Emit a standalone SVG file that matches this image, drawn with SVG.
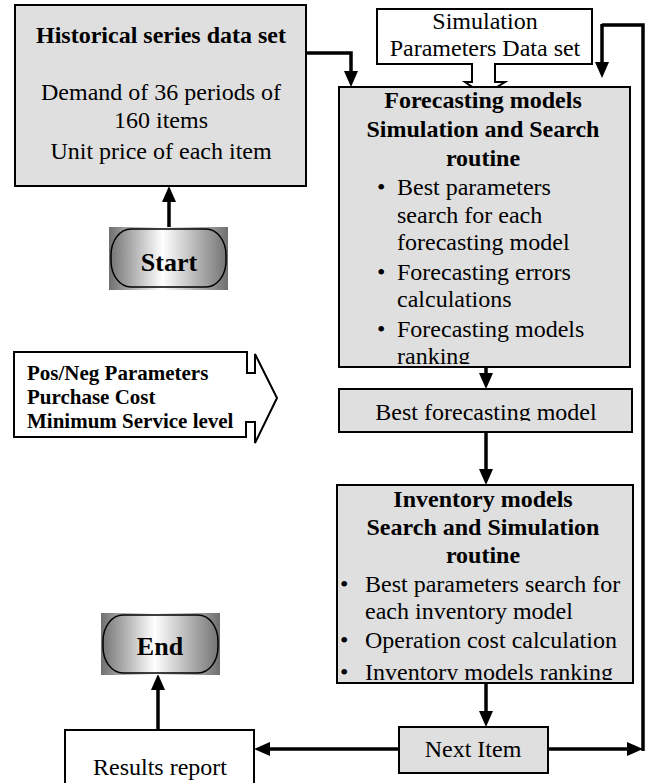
<svg xmlns="http://www.w3.org/2000/svg" width="654" height="783" viewBox="0 0 654 783" font-family="'Liberation Serif','Times New Roman',serif">
<style>
text{font-family:"Liberation Serif","Times New Roman",serif;fill:#000;}
.t{font-size:24px;}
.b{font-size:24px;font-weight:bold;}
.bs{font-size:21px;font-weight:bold;}
.term{font-size:26px;font-weight:bold;}
.box{fill:#dfdfdf;stroke:#000;stroke-width:2;}
.wbox{fill:#fff;stroke:#000;stroke-width:2;}
.conn path{fill:none;stroke:#000;stroke-width:3.5;}
.conn path.ar{marker-end:url(#ah);}
</style>
<defs>
<marker id="ah" markerWidth="16" markerHeight="14" refX="1" refY="7" orient="auto" markerUnits="userSpaceOnUse">
<path d="M0,0 L16,7 L0,14 Z" fill="#000"/>
</marker>
<linearGradient id="gr" x1="0" y1="0" x2="1" y2="0">
<stop offset="0" stop-color="#707070"/>
<stop offset="0.45" stop-color="#ffffff"/>
<stop offset="1" stop-color="#707070"/>
</linearGradient>
<clipPath id="cpF"><rect x="339" y="87" width="291" height="277"/></clipPath>
<clipPath id="cpB"><rect x="339" y="389" width="293" height="32"/></clipPath>
<clipPath id="cpI"><rect x="337" y="485" width="296" height="195"/></clipPath>
</defs>

<g id="connectors" class="conn">
<path class="ar" d="M306,53 H351 V72"/>
<path class="ar" d="M169,227 V201"/>
<path d="M643,751 V25 H602"/>
<path class="ar" d="M602,24 V63"/>
<path class="ar" d="M486,367 V374"/>
<path class="ar" d="M486,432 V470"/>
<path class="ar" d="M486,683 V712"/>
<path class="ar" d="M548,749 H628"/>
<path class="ar" d="M399,749 H269"/>
<path class="ar" d="M158,730 V689"/>
</g>

<g id="historical">
<rect class="box" x="15" y="5" width="291" height="181"/>
<text class="b" x="161" y="43" text-anchor="middle">Historical series data set</text>
<text class="t" x="161" y="100" text-anchor="middle">Demand of 36 periods of</text>
<text class="t" x="161" y="128" text-anchor="middle">160 items</text>
<text class="t" x="161" y="159" text-anchor="middle">Unit price of each item</text>
</g>

<g id="start">
<rect x="109" y="227" width="119" height="63" fill="url(#gr)"/>
<rect x="111" y="229" width="115" height="58" rx="20" ry="26" fill="none" stroke="#000" stroke-width="1.5"/>
<text class="term" x="169" y="271" text-anchor="middle">Start</text>
</g>

<g id="simulation-parameters">
<path class="wbox" d="M377,9 H592 V64 H495 V82 H505 L484,95 L465,82 H472 V64 H377 Z"/>
<text class="t" x="485" y="29" text-anchor="middle">Simulation</text>
<text class="t" x="485" y="56" text-anchor="middle">Parameters Data set</text>
</g>

<g id="forecasting">
<rect class="box" x="339" y="87" width="291" height="280"/>
<g clip-path="url(#cpF)">
<text class="b" x="483" y="108" text-anchor="middle">Forecasting models</text>
<text class="b" x="483" y="137" text-anchor="middle">Simulation and Search</text>
<text class="b" x="483" y="166" text-anchor="middle">routine</text>
<text class="t" x="377" y="195">•</text>
<text class="t" x="397" y="195">Best parameters</text>
<text class="t" x="397" y="223">search for each</text>
<text class="t" x="397" y="250">forecasting model</text>
<text class="t" x="377" y="280">•</text>
<text class="t" x="397" y="280">Forecasting errors</text>
<text class="t" x="397" y="307">calculations</text>
<text class="t" x="377" y="337">•</text>
<text class="t" x="397" y="337">Forecasting models</text>
<text class="t" x="397" y="364">ranking</text>
</g>
</g>

<g id="parameters">
<path class="wbox" d="M14,352 H247 V373 H255 V354 L277,398 L255,443 V422 H246 V437 H14 Z"/>
<text class="bs" x="27" y="380">Pos/Neg Parameters</text>
<text class="bs" x="27" y="404">Purchase Cost</text>
<text class="bs" x="27" y="428">Minimum Service level</text>
</g>

<g id="best-forecasting">
<rect class="box" x="339" y="389" width="293" height="43"/>
<text class="t" x="486" y="420" text-anchor="middle" clip-path="url(#cpB)">Best forecasting model</text>
</g>

<g id="inventory">
<rect class="box" x="337" y="485" width="296" height="198"/>
<g clip-path="url(#cpI)">
<text class="b" x="483" y="507" text-anchor="middle">Inventory models</text>
<text class="b" x="483" y="535" text-anchor="middle">Search and Simulation</text>
<text class="b" x="483" y="563" text-anchor="middle">routine</text>
<text class="t" x="340" y="592">•</text>
<text class="t" x="365" y="592">Best parameters search for</text>
<text class="t" x="365" y="619">each inventory model</text>
<text class="t" x="340" y="648">•</text>
<text class="t" x="365" y="648">Operation cost calculation</text>
<text class="t" x="340" y="680">•</text>
<text class="t" x="365" y="680">Inventory models ranking</text>
</g>
</g>

<g id="end">
<rect x="101" y="613" width="119" height="62" fill="url(#gr)"/>
<rect x="103" y="615" width="115" height="58" rx="20" ry="26" fill="none" stroke="#000" stroke-width="1.5"/>
<text class="term" x="160" y="655" text-anchor="middle">End</text>
</g>

<g id="next-item">
<rect class="box" x="399" y="727" width="149" height="46"/>
<text class="t" x="473" y="757" text-anchor="middle">Next Item</text>
</g>

<g id="results-report">
<rect class="wbox" x="65" y="730" width="189" height="60"/>
<text class="t" x="160" y="775" text-anchor="middle">Results report</text>
</g>
</svg>
